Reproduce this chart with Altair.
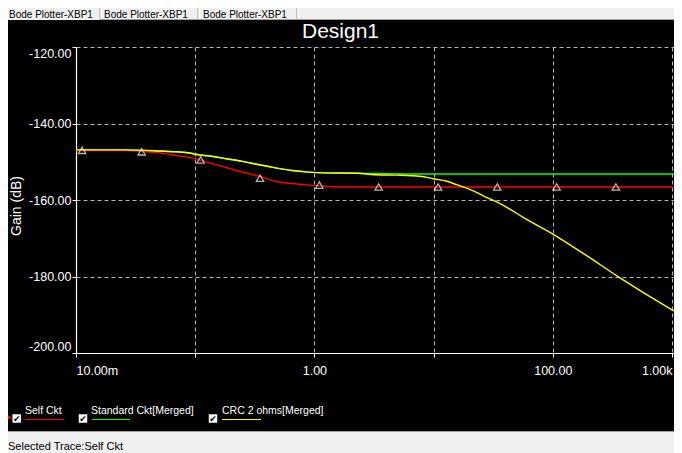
import altair as alt
import pandas as pd

# ---------------- data ----------------
series_names = ["Self Ckt", "Standard Ckt[Merged]", "CRC 2 ohms[Merged]"]
series_colors = ["#ff0000", "#00ff00", "#ffff00"]

self_freq = [0.01, 0.0252, 0.0395, 0.0508, 0.0615, 0.0794, 0.103, 0.132, 0.182, 0.249,
             0.343, 0.472, 0.649, 0.892, 1.23, 1.68, 3.0, 10.0, 100.0, 1039.0]
self_db = [-147.1, -147.1, -147.4, -147.7, -148.1, -148.6, -149.3, -150.3, -151.5, -152.7,
           -153.8, -155.1, -155.7, -156.1, -156.4, -156.6, -156.6, -156.6, -156.6, -156.6]

std_freq = [0.01, 0.0252, 0.0508, 0.0701, 0.0901, 0.103, 0.132, 0.182, 0.249, 0.343,
            0.472, 0.649, 0.892, 1.23, 2.32, 6.02, 100.0, 1039.0]
std_db = [-146.9, -146.9, -147.2, -147.4, -147.7, -148.1, -148.5, -149.2, -149.9, -150.8,
          -151.6, -152.3, -152.7, -152.9, -153.0, -153.2, -153.2, -153.2]

crc_freq = [0.01, 0.0252, 0.0508, 0.0701, 0.0901, 0.103, 0.132, 0.182, 0.249, 0.343,
            0.472, 0.649, 0.892, 1.23, 2.32, 3.2, 4.97, 7.7, 10.1, 12.9,
            15.6, 18.9, 22.9, 27.7, 33.5, 43.2, 55.5, 100.0, 187.0, 355.0,
            1000.0, 1039.0]
crc_db = [-146.9, -146.9, -147.2, -147.4, -147.7, -148.1, -148.5, -149.2, -149.9, -150.8,
          -151.6, -152.3, -152.7, -152.9, -153.0, -153.4, -153.5, -153.8, -154.5, -155.1,
          -156.0, -156.9, -158.0, -159.3, -160.4, -162.3, -164.4, -168.9, -174.3, -180.1,
          -188.7, -189.0]

marker_freq = [0.01125, 0.0355, 0.111, 0.35, 1.1, 3.46, 10.9, 34.2, 107.6, 338.0]
marker_db = [-147.0, -147.4, -149.5, -154.3, -156.1, -156.6, -156.6, -156.6, -156.6, -156.6]

x_tick_values = [0.01, 0.1, 1, 10, 100, 1000]
x_tick_labels = ["10.00m", "", "1.00", "", "100.00", "1.00k"]
y_tick_values = [-200, -180, -160, -140, -120]
x_domain = [0.01, 1039]
y_domain = [-200, -120]

title_text = "Design1"
y_title_text = "Gain (dB)"
tab_texts = ["Bode Plotter-XBP1", "Bode Plotter-XBP1", "Bode Plotter-XBP1"]
status_text = "Selected Trace:Self Ckt"

# ---------------- layout ----------------
FONT = "Liberation Sans"
W, H = 598, 306
PAD = {"left": 68, "top": 39, "right": 0, "bottom": 100}
RIGHT = 674  # right page edge of the drawing


def px(x):  # page x -> plot x
    return x - 76


def py(y):  # page y -> plot y
    return y - 47


x_scale = alt.Scale(type="log", domain=x_domain, nice=False)
y_scale = alt.Scale(domain=y_domain, nice=False, zero=False)

x_label_expr = "''"
for v, lab in reversed(list(zip(x_tick_values, x_tick_labels))):
    x_label_expr = f"(abs(datum.value / {v} - 1) < 0.001 ? '{lab}' : {x_label_expr})"

GRID = "#b4b4b4"
x_axis = alt.Axis(
    values=x_tick_values, labelExpr=x_label_expr, title=None, grid=True,
    gridColor={"condition": {"test": "datum.value < 0.02", "value": "transparent"}, "value": GRID},
    gridDash=[4, 3], gridWidth=1,
    domainColor="white", domainWidth=1.2, tickColor="white", tickSize=4, tickWidth=1,
    labelColor="white", labelFont=FONT, labelFontSize=12.5, labelFlush=5,
    labelOverlap=False, labelBaseline="alphabetic", labelPadding=17,
)
y_axis = alt.Axis(
    values=y_tick_values, labelExpr="'-' + format(abs(datum.value), '.2f')", title=None, grid=True,
    gridColor={"condition": {"test": "datum.value < -199", "value": "transparent"}, "value": GRID},
    gridDash=[4, 3], gridWidth=1,
    domainColor="white", domainWidth=1.2, tickColor="white", tickSize=4, tickWidth=1,
    labelColor="white", labelFont=FONT, labelFontSize=12.5, labelFlush=5,
    labelOverlap=False, labelPadding=1,
)


def line_layer(freq, db, color):
    df = pd.DataFrame({"f": freq, "g": db})
    return alt.Chart(df).mark_line(color=color, strokeWidth=1.4, interpolate="monotone").encode(
        x=alt.X("f:Q", scale=x_scale, axis=x_axis),
        y=alt.Y("g:Q", scale=y_scale, axis=y_axis),
    )


def text_layer(txt, x, y, size, color, align="left", baseline="alphabetic", angle=0, font=FONT):
    return alt.Chart(pd.DataFrame({"t": [txt]})).mark_text(
        align=align, baseline=baseline, fontSize=size, font=font, color=color, angle=angle
    ).encode(text="t:N", x=alt.value(x), y=alt.value(y))


def rect_layer(x1, x2, y1, y2, color):
    return alt.Chart(pd.DataFrame({"k": [0]})).mark_rect(color=color).encode(
        x=alt.value(x1), x2=alt.value(x2), y=alt.value(y1), y2=alt.value(y2))


def rule_layer(x1, x2, y1, y2, color, width=1):
    return alt.Chart(pd.DataFrame({"k": [0]})).mark_rule(color=color, strokeWidth=width).encode(
        x=alt.value(x1), x2=alt.value(x2), y=alt.value(y1), y2=alt.value(y2))


layers = []
# window chrome: tab strip and status bar
layers.append(rect_layer(px(0), px(RIGHT + 10), py(0), py(20), "#f0f0f0"))
for sx in [100, 198, 297]:
    layers.append(rule_layer(px(sx), px(sx), py(6), py(19.5), "#a0a0a0"))
    layers.append(rule_layer(px(sx + 1), px(sx + 1), py(6), py(19.5), "#ffffff"))
layers.append(rule_layer(px(100), px(RIGHT + 10), py(19.5), py(19.5), "#a0a0a0"))
layers.append(rect_layer(px(0), px(RIGHT + 10), py(431), py(460), "#f0f0f0"))
layers.append(rule_layer(px(0), px(RIGHT + 10), py(431.5), py(431.5), "#a0a0a0"))

# curves
layers.append(line_layer(std_freq, std_db, series_colors[1]))
layers.append(line_layer(self_freq, self_db, series_colors[0]))
layers.append(line_layer(crc_freq, crc_db, series_colors[2]))

# cursor markers on the selected trace
layers.append(
    alt.Chart(pd.DataFrame({"f": marker_freq, "g": marker_db})).mark_point(
        shape="triangle-up", filled=False, color="white", strokeWidth=1.3, size=55
    ).encode(x=alt.X("f:Q", scale=x_scale, axis=x_axis),
             y=alt.Y("g:Q", scale=y_scale, axis=y_axis))
)

# texts
layers.append(text_layer(title_text, px(340.5), py(38), 21, "white", align="center"))
layers.append(text_layer(y_title_text, px(17), py(206), 14, "white", align="center",
                         baseline="middle", angle=270))
for tx, t in zip([9, 104, 203], tab_texts):
    layers.append(text_layer(t, px(tx), py(17.5), 10, "black"))
layers.append(text_layer(status_text, px(8), py(450), 11, "black"))

# legend
layers.append(
    alt.Chart(pd.DataFrame({"k": [0]})).mark_point(
        shape="triangle-right", filled=True, color="#ff0000", size=45, opacity=1
    ).encode(x=alt.value(px(9)), y=alt.value(py(417.5)))
)
box_x = [16.7, 83, 213]
text_x = [25, 91, 222]
line_x = [(25, 64), (92, 130), (222, 261)]
for i, name in enumerate(series_names):
    layers.append(
        alt.Chart(pd.DataFrame({"k": [0]})).mark_square(
            size=72, filled=True, color="white", opacity=1
        ).encode(x=alt.value(px(box_x[i])), y=alt.value(py(418.5)))
    )
    layers.append(text_layer("\u2714", px(box_x[i]), py(419), 9, "black", align="center",
                             baseline="middle", font="DejaVu Sans"))
    layers.append(text_layer(name, px(text_x[i]), py(414), 10.5, "white"))
    layers.append(rule_layer(px(line_x[i][0]), px(line_x[i][1]), py(419.5), py(419.5),
                             series_colors[i], 1))

chart = alt.layer(*layers).properties(
    width=W, height=H, padding=PAD, autosize=alt.AutoSizeParams(type="none")
).configure(background="black").configure_view(stroke=None)

chart.save("out.html", embed_options={"renderer": "svg", "actions": False})
